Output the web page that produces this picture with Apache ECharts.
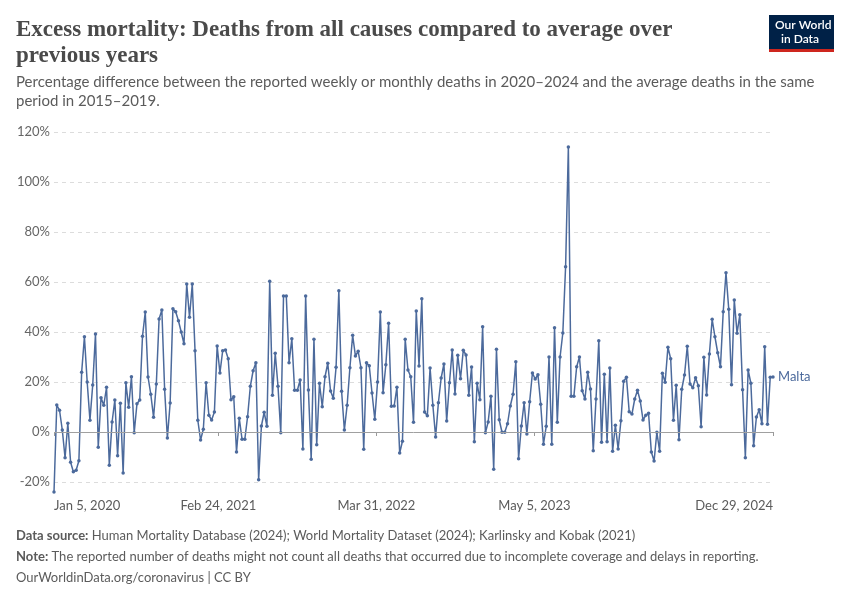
<!DOCTYPE html>
<html>
<head>
<meta charset="utf-8">
<script src="https://cdn.jsdelivr.net/npm/echarts@6/dist/echarts.min.js"></script>
<style>html,body{margin:0;padding:0;background:#fff}#c{width:850px;height:600px}</style>
</head>
<body>
<div id="c"></div>
<script>
// Weekly excess mortality (%) for Malta, weeks ending Sunday from Jan 5, 2020
const startDate = '2020-01-05';
const endDate = '2024-12-29';
const maltaValues = [
  -24, 10.8, 8.7, 0.8, -10.3, 3.5, -12.1, -15.9, -15.3, -11.5,
  23.9, 38.1, 20, 4.7, 18.8, 39.2, -6.1, 13.7, 10.7, 17.9,
  -13.3, 4, 12.8, -9.5, 11.5, -16.4, 19.7, 9.9, 22.1, -0.3,
  11.3, 12.8, 38.3, 48, 22, 15.1, 5.9, 19.2, 45.2, 48.8,
  17.1, -2.4, 11.6, 49.3, 48.1, 44.5, 40, 35.3, 59.2, 45.9,
  59.2, 32.5, 4.7, -3.2, 1.1, 19.7, 6.7, 4.8, 8, 34.4,
  23.6, 32.5, 32.8, 29.3, 12.9, 14.1, -8, 5.5, -2.9, -2.9,
  6.1, 18.3, 24.5, 27.7, -19.1, 2.4, 7.9, 2.3, 60.3, 14.7,
  31.5, 18.3, -0.3, 54.4, 54.4, 27.7, 37.3, 16.7, 16.7, 20.8,
  -6.8, 54.4, 16.8, -10.9, 37.1, -5.1, 19.5, 10.1, 22.1, 27.5,
  16.4, 13.5, 25.9, 56.5, 16.3, 0.8, 10.7, 25.7, 38.7, 30.4,
  32.3, 25.7, -6.9, 27.7, 26.5, 15.6, 5.1, 20, 48, 15.7,
  26.9, 43.5, 10.3, 10.4, 17.9, -8.4, -3.7, 37.1, 24.8, 22.1,
  3.9, 48.4, 26.4, 53.3, 8, 6.5, 25.6, 10.7, -2, 11.7,
  21.6, 27.2, 4.4, 19.7, 32.8, 15.2, 30.7, 21.3, 32.7, 30.8,
  14.7, 26, -3.9, 19.5, 12.9, 42.1, -0.3, 4, 14.3, -14.9,
  33.1, 4.9, -0.1, -0.1, 3.3, 10.4, 15.1, 28.1, -10.7, 2.4,
  11.7, -0.8, 12.1, 23.6, 21.2, 22.9, 11.1, -4.9, 2.3, 30,
  -4.9, 41.7, 3.9, 30, 39.6, 66.1, 114, 14.3, 14.3, 26.1,
  30, 16.5, 13.2, 23.9, 17.2, -7.5, 13.2, 36.5, -4.1, 23.1,
  -3.9, 25.6, -7.7, 2.7, -6.8, 4.5, 20.3, 21.9, 8.1, 7.2,
  13.2, 16.7, 12.4, 4.8, 6.7, 7.5, -8, -11.6, -0.1, -7.7,
  23.5, 19.9, 33.9, 29.3, 4.7, 18.7, -3.1, 17.1, 22.8, 34.3,
  19.2, 17.7, 21.7, 18.5, 2.1, 29.9, 14.8, 31.2, 45.1, 38.1,
  31.7, 26.1, 48.1, 63.7, 49.1, 18.9, 52.8, 39.5, 46.9, 16.9,
  -10.3, 24.8, 19.5, -5.5, 6, 8.9, 3.3, 34.1, 3.1, 21.9,
  22
];
const xTickDates = ['2020-01-05', '2021-02-24', '2022-03-31', '2023-05-05', '2024-12-29'];
const yTicks = [-20, 0, 20, 40, 60, 80, 100, 120];
const seriesName = 'Malta';

const MONTHS = ['Jan','Feb','Mar','Apr','May','Jun','Jul','Aug','Sep','Oct','Nov','Dec'];
function ts(s){ const p = s.split('-').map(Number); return Date.UTC(p[0], p[1]-1, p[2]); }
function fmt(t){ const d = new Date(t); return MONTHS[d.getUTCMonth()] + ' ' + d.getUTCDate() + ', ' + d.getUTCFullYear(); }
const WEEK = 7*24*3600*1000;
const t0 = ts(startDate);
const seriesData = maltaValues.map((v, i) => [t0 + i*WEEK, v]);
const tickTs = xTickDates.map(ts);

const chart = echarts.init(document.getElementById('c'), null, {renderer: 'canvas'});
const font = 'Lato, "Noto Sans", sans-serif';
const grey = '#5b5b5b';
const lineColor = '#4c6a9c';

chart.setOption({
  animation: false,
  backgroundColor: '#fff',
  title: [
    {
      text: 'Excess mortality: Deaths from all causes compared to average over\nprevious years',
      left: 16, top: 17, padding: 0,
      textStyle: {fontFamily: '"Liberation Serif", "DejaVu Serif", serif', fontWeight: 'bold', fontSize: 23, color: '#4a4a4a', lineHeight: 26}
    },
    {
      text: 'Percentage difference between the reported weekly or monthly deaths in 2020–2024 and the average deaths in the same\nperiod in 2015–2019.',
      left: 16, top: 73, padding: 0,
      textStyle: {fontFamily: font, fontWeight: 'normal', fontSize: 15, color: grey, lineHeight: 19}
    },
    {
      text: '{b|Data source:} Human Mortality Database (2024); World Mortality Dataset (2024); Karlinsky and Kobak (2021)\n{b|Note:} The reported number of deaths might not count all deaths that occurred due to incomplete coverage and delays in reporting.\nOurWorldinData.org/coronavirus | CC BY',
      left: 16, top: 525, padding: 0,
      textStyle: {
        fontFamily: font, fontWeight: 'normal', fontSize: 13, color: grey, lineHeight: 21,
        rich: {b: {fontFamily: font, fontWeight: 'bold', fontSize: 13, color: grey, lineHeight: 21}}
      }
    }
  ],
  graphic: [
    {type: 'rect', left: 769, top: 15, shape: {width: 65, height: 37}, style: {fill: '#002147'}},
    {type: 'rect', left: 769, top: 49, shape: {width: 65, height: 3}, style: {fill: '#ce261e'}},
    {type: 'text', left: 775, top: 18, style: {text: 'Our World\n  in Data', fill: '#fff', font: '600 12px Lato, sans-serif', lineHeight: 14}}
  ],
  grid: {left: 54, right: 77, top: 132, bottom: 118, containLabel: false},
  xAxis: {
    type: 'value',
    min: t0,
    max: ts(endDate),
    offset: 9,
    axisLine: {show: false},
    axisTick: {show: true, length: 4, lineStyle: {color: '#999'}, customValues: tickTs},
    splitLine: {show: false},
    axisLabel: {
      customValues: tickTs,
      formatter: (v) => fmt(v),
      color: '#5b5b5b', fontFamily: font, fontSize: 13, margin: 8,
      alignMinLabel: 'left', alignMaxLabel: 'right', showMinLabel: true, showMaxLabel: true
    }
  },
  yAxis: {
    type: 'value',
    min: -20, max: 120, interval: 20,
    axisLine: {show: false},
    axisTick: {show: false},
    axisLabel: {formatter: (v) => v + '%', color: '#666', fontFamily: font, fontSize: 13, margin: 4},
    splitLine: {show: true, lineStyle: {color: '#dcdcdc', type: [4, 4], width: 1}}
  },
  series: [{
    name: seriesName,
    type: 'line',
    data: seriesData,
    clip: false,
    symbol: 'circle',
    symbolSize: 3.5,
    showAllSymbol: true,
    lineStyle: {color: lineColor, width: 1.5},
    itemStyle: {color: lineColor},
    endLabel: {show: true, formatter: seriesName, color: lineColor, fontFamily: font, fontSize: 13, distance: 5},
    markLine: {
      silent: true, symbol: 'none', label: {show: false},
      lineStyle: {color: '#a0a0a0', type: 'solid', width: 1},
      data: [{yAxis: 0}]
    },
    z: 3
  }]
});
</script>
</body>
</html>
